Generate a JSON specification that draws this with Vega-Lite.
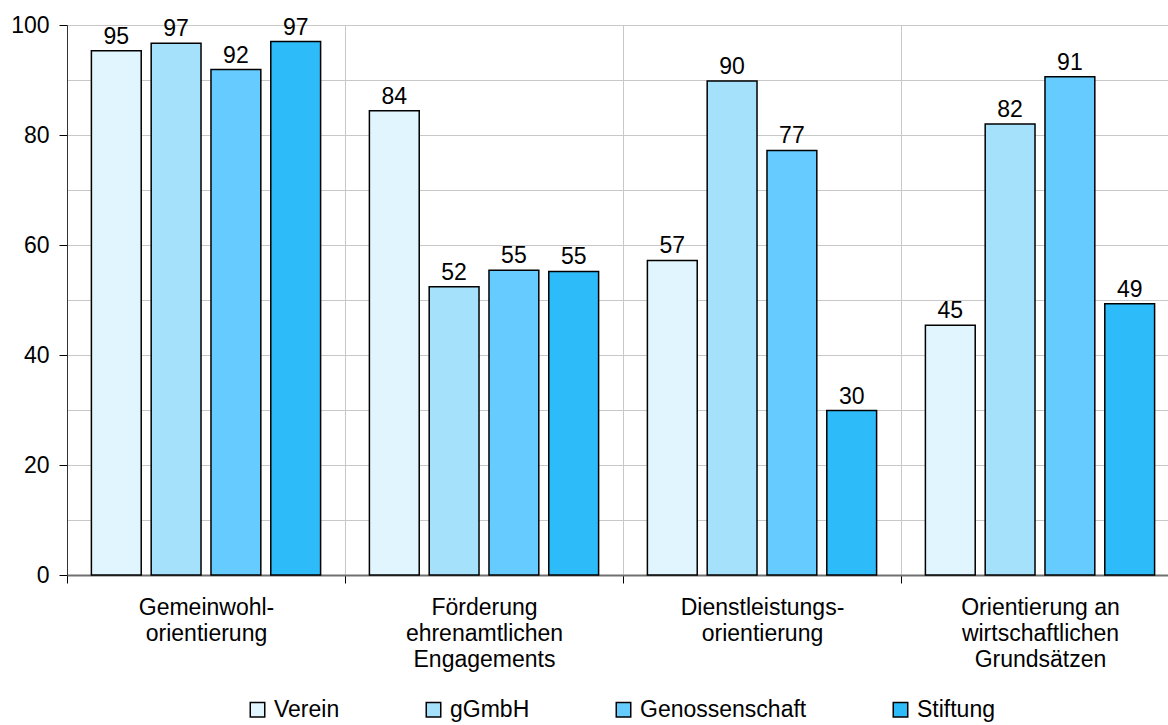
{
  "$schema": "https://vega.github.io/schema/vega-lite/v6.json",
  "width": 1112,
  "height": 550,
  "autosize": {"type": "none"},
  "padding": {"left": 67, "top": 25, "right": 0, "bottom": 150},
  "config": {"font": "Liberation Sans", "view": {"stroke": null}},
  "data": {
    "values": [
      {"cat": "Gemeinwohl-|orientierung", "type": "Verein", "value": 95.3},
      {"cat": "Gemeinwohl-|orientierung", "type": "gGmbH", "value": 96.7},
      {"cat": "Gemeinwohl-|orientierung", "type": "Genossenschaft", "value": 91.9},
      {"cat": "Gemeinwohl-|orientierung", "type": "Stiftung", "value": 97.0},
      {"cat": "Förderung|ehrenamtlichen|Engagements", "type": "Verein", "value": 84.4},
      {"cat": "Förderung|ehrenamtlichen|Engagements", "type": "gGmbH", "value": 52.4},
      {"cat": "Förderung|ehrenamtlichen|Engagements", "type": "Genossenschaft", "value": 55.4},
      {"cat": "Förderung|ehrenamtlichen|Engagements", "type": "Stiftung", "value": 55.2},
      {"cat": "Dienstleistungs-|orientierung", "type": "Verein", "value": 57.2},
      {"cat": "Dienstleistungs-|orientierung", "type": "gGmbH", "value": 89.8},
      {"cat": "Dienstleistungs-|orientierung", "type": "Genossenschaft", "value": 77.2},
      {"cat": "Dienstleistungs-|orientierung", "type": "Stiftung", "value": 29.9},
      {"cat": "Orientierung an|wirtschaftlichen|Grundsätzen", "type": "Verein", "value": 45.4},
      {"cat": "Orientierung an|wirtschaftlichen|Grundsätzen", "type": "gGmbH", "value": 82.0},
      {"cat": "Orientierung an|wirtschaftlichen|Grundsätzen", "type": "Genossenschaft", "value": 90.6},
      {"cat": "Orientierung an|wirtschaftlichen|Grundsätzen", "type": "Stiftung", "value": 49.3}
    ]
  },
  "encoding": {
    "x": {
      "field": "cat", "type": "nominal", "sort": null,
      "scale": {"paddingInner": 0, "paddingOuter": 0},
      "axis": {
        "title": null, "labelAngle": 0, "labelExpr": "split(datum.label, '|')",
        "tickBand": "extent", "tickSize": 8, "tickColor": "black", "tickWidth": 1,
        "domainColor": "#707070", "domainWidth": 2,
        "grid": true, "gridColor": "#c8c8c8", "gridWidth": 1,
        "labelFontSize": 23, "labelColor": "black", "labelLineHeight": 26,
        "labelPadding": 13, "labelBaseline": "top", "labelFont": "Liberation Sans",
        "labelLimit": 400
      }
    },
    "xOffset": {
      "field": "type", "type": "nominal",
      "sort": ["Verein", "gGmbH", "Genossenschaft", "Stiftung"],
      "scale": {"paddingInner": 0.1667, "paddingOuter": 0.408}
    },
    "y": {
      "field": "value", "type": "quantitative",
      "scale": {"domain": [0, 100], "nice": false},
      "axis": {
        "title": null,
        "values": [0, 10, 20, 30, 40, 50, 60, 70, 80, 90, 100],
        "labelExpr": "datum.value % 20 === 0 ? datum.label : ''",
        "tickOpacity": {"condition": {"test": "datum.value % 20 === 0", "value": 1}, "value": 0},
        "tickSize": 8, "tickColor": "black",
        "domainColor": "#333333", "domainWidth": 1,
        "grid": true, "gridColor": "#c8c8c8", "gridWidth": 1,
        "labelFontSize": 23, "labelColor": "black", "labelPadding": 10,
        "labelFont": "Liberation Sans"
      }
    }
  },
  "layer": [
    {
      "mark": {"type": "bar", "stroke": "black", "strokeWidth": 1.5},
      "encoding": {
        "color": {
          "field": "type", "type": "nominal",
          "sort": ["Verein", "gGmbH", "Genossenschaft", "Stiftung"],
          "scale": {
            "domain": ["Verein", "gGmbH", "Genossenschaft", "Stiftung"],
            "range": ["#E0F5FE", "#A5E1FB", "#66CCFF", "#2DBCF9"]
          },
          "legend": {
            "orient": "none", "legendX": 179, "legendY": 673,
            "direction": "horizontal", "title": null,
            "symbolType": "square", "symbolSize": 210,
            "symbolStrokeColor": "black", "symbolStrokeWidth": 1.5,
            "symbolOpacity": 1,
            "labelFontSize": 23, "labelColor": "black", "labelOffset": 5,
            "labelFont": "Liberation Sans", "labelLimit": 400,
            "columnPadding": 82
          }
        }
      }
    },
    {
      "mark": {"type": "text", "dy": -7, "baseline": "alphabetic", "fontSize": 23, "color": "black", "font": "Liberation Sans"},
      "encoding": {"text": {"field": "value", "type": "quantitative", "format": ".0f"}}
    }
  ]
}
